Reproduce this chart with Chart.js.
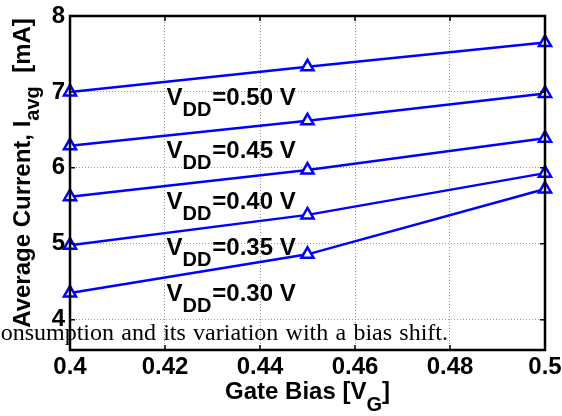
<!DOCTYPE html>
<html>
<head>
<meta charset="utf-8">
<script src="https://cdn.jsdelivr.net/npm/chart.js@4"></script>
<style>
  html, body { margin: 0; padding: 0; background: #fff; }
  #wrap { width: 562px; height: 416px; }
</style>
</head>
<body>
<div id="wrap"><canvas id="chart" width="562" height="416"></canvas></div>
<script>
// gate bias sweep [V]
const gateBias = [0.4, 0.45, 0.5];
// average current [mA] for each supply voltage
const vdd050 = [7.00, 7.33, 7.65];
const vdd045 = [6.29, 6.62, 6.98];
const vdd040 = [5.62, 5.97, 6.39];
const vdd035 = [4.98, 5.38, 5.93];
const vdd030 = [4.35, 4.86, 5.72];
const vddLabels = ['0.50', '0.45', '0.40', '0.35', '0.30'];
const xTicks = [0.4, 0.42, 0.44, 0.46, 0.48, 0.5];
const yTicks = [4, 5, 6, 7, 8];
const captionWords = ['consumption', 'and', 'its', 'variation', 'with', 'a', 'bias', 'shift.'];

const series = [vdd050, vdd045, vdd040, vdd035, vdd030];
const FAMILY = '"Liberation Sans", Arial, sans-serif';
const BOLD = 'bold 24px ' + FAMILY;
const SUB = 'bold 20px ' + FAMILY;

const toPoints = vals => gateBias.map((g, i) => ({ x: g, y: vals[i] }));

// draws the box, inner ticks, V_DD labels, axis titles and the stray caption
const decorations = {
  id: 'decorations',
  afterDraw(chart) {
    const { ctx, chartArea: a, scales } = chart;
    const xs = scales.x, ys = scales.y;
    ctx.save();

    // axes box
    ctx.strokeStyle = '#000';
    ctx.lineWidth = 2.5;
    ctx.strokeRect(a.left, a.top, a.right - a.left, a.bottom - a.top);

    // inward tick marks
    ctx.lineWidth = 1.5;
    ctx.beginPath();
    xTicks.forEach(t => {
      const px = xs.getPixelForValue(t);
      ctx.moveTo(px, a.bottom); ctx.lineTo(px, a.bottom - 5);
      ctx.moveTo(px, a.top); ctx.lineTo(px, a.top + 5);
    });
    yTicks.forEach(t => {
      const py = ys.getPixelForValue(t);
      ctx.moveTo(a.left, py); ctx.lineTo(a.left + 5, py);
      ctx.moveTo(a.right, py); ctx.lineTo(a.right - 5, py);
    });
    ctx.stroke();

    ctx.fillStyle = '#000';
    ctx.textBaseline = 'alphabetic';
    ctx.textAlign = 'left';

    // V_DD labels (anchored in data units)
    const labelX = xs.getPixelForValue(0.4203);
    const labelY = [6.83, 6.13, 5.46, 4.85, 4.25];
    vddLabels.forEach((v, i) => {
      let x = labelX;
      const y = ys.getPixelForValue(labelY[i]);
      ctx.font = BOLD;
      ctx.fillText('V', x, y);
      x += ctx.measureText('V').width;
      ctx.font = SUB;
      ctx.fillText('DD', x, y + 11);
      x += ctx.measureText('DD').width + 1;
      ctx.font = BOLD;
      ctx.fillText('=' + v + ' V', x, y);
    });

    // caption fragment bleeding in from the page, justified between x=-10 and x=448
    ctx.font = '24px "Liberation Serif", "Times New Roman", serif';
    const widths = captionWords.map(w => ctx.measureText(w).width);
    const sum = widths.reduce((s, w) => s + w, 0);
    const gap = (448 + 10 - sum) / (captionWords.length - 1);
    let cx = -10;
    captionWords.forEach((w, i) => { ctx.fillText(w, cx, 340); cx += widths[i] + gap; });

    // x title: Gate Bias [V_G]
    drawParts(ctx, [
      { t: 'Gate Bias [V', f: BOLD, dy: 0 },
      { t: 'G', f: SUB, dy: 12 },
      { t: ']', f: BOLD, dy: 0 }
    ], (a.left + a.right) / 2, 399);

    // y title: Average Current, I_avg [mA]
    ctx.save();
    ctx.translate(30, 173);
    ctx.rotate(-Math.PI / 2);
    drawParts(ctx, [
      { t: 'Average Current, I', f: BOLD, dy: 0 },
      { t: 'avg', f: SUB, dy: 9 },
      { t: '  [mA]', f: BOLD, dy: 0 }
    ], 0, 0);
    ctx.restore();

    ctx.restore();
  }
};

function drawParts(ctx, parts, cx, baseY) {
  let total = 0;
  parts.forEach(p => { ctx.font = p.f; p.w = ctx.measureText(p.t).width; total += p.w; });
  let x = cx - total / 2;
  parts.forEach(p => {
    ctx.font = p.f;
    ctx.fillText(p.t, x, baseY + p.dy);
    x += p.w;
  });
}

const gridOpts = { color: '#9a9a9a', lineWidth: 1, drawTicks: false };
const tickFont = { family: FAMILY, size: 24, weight: 'bold' };

new Chart(document.getElementById('chart'), {
  type: 'line',
  data: {
    datasets: series.map((vals, i) => ({
      label: 'VDD=' + vddLabels[i] + ' V',
      data: toPoints(vals),
      borderColor: '#0000ff',
      borderWidth: 2.5,
      pointStyle: 'triangle',
      pointRadius: 7,
      pointBorderWidth: 2.5,
      pointBorderColor: '#0000ff',
      pointBackgroundColor: '#ffffff',
      tension: 0,
      clip: false
    }))
  },
  options: {
    responsive: false,
    animation: false,
    devicePixelRatio: 1,
    layout: { padding: { top: 16, right: 17, left: 0, bottom: 0 } },
    plugins: { legend: { display: false }, tooltip: { enabled: false } },
    scales: {
      x: {
        type: 'linear',
        min: 0.4,
        max: 0.5,
        afterBuildTicks: s => { s.ticks = xTicks.map(v => ({ value: v })); },
        afterFit: s => { s.height = 66; s.paddingLeft = 0; s.paddingRight = 0; },
        grid: gridOpts,
        border: { display: false, dash: [1, 2] },
        ticks: {
          padding: 3,
          color: '#000',
          font: tickFont,
          maxRotation: 0,
          callback: v => String(Number(v.toFixed(2)))
        }
      },
      y: {
        min: 3.6,
        max: 8,
        afterBuildTicks: s => { s.ticks = yTicks.map(v => ({ value: v })); },
        afterFit: s => { s.width = 70; s.paddingTop = 0; s.paddingBottom = 0; },
        grid: gridOpts,
        border: { display: false, dash: [1, 2] },
        ticks: {
          padding: 5,
          color: '#000',
          font: tickFont,
          callback: v => String(v)
        }
      }
    }
  },
  plugins: [decorations]
});
</script>
</body>
</html>
